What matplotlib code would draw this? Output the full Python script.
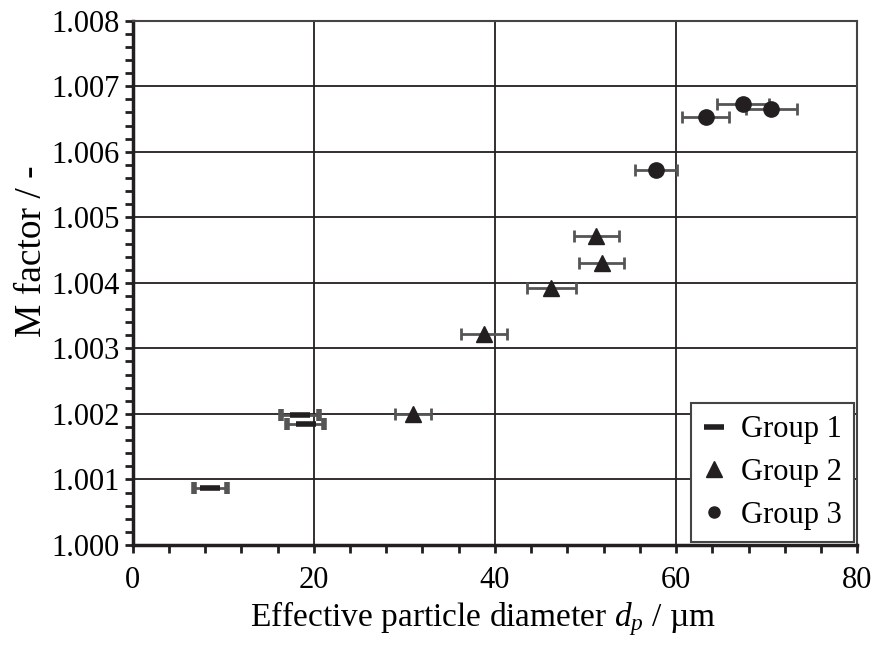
import matplotlib.pyplot as plt
from matplotlib.lines import Line2D
from matplotlib.ticker import MultipleLocator, FormatStrFormatter

plt.rcParams['font.family'] = ['Liberation Serif', 'DejaVu Serif']
plt.rcParams['mathtext.fontset'] = 'custom'
plt.rcParams['mathtext.it'] = 'Liberation Serif:italic'
plt.rcParams['mathtext.rm'] = 'Liberation Serif'

# Group 1
g1_d = [8.6, 18.5, 19.1]
g1_m = [1.00087, 1.00199, 1.00185]
g1_err = [1.8, 2.1, 2.0]

# Group 2
g2_d = [31.0, 38.8, 46.2, 51.2, 51.8]
g2_m = [1.00200, 1.00322, 1.00392, 1.00472, 1.00430]
g2_err = [2.0, 2.5, 2.7, 2.5, 2.5]

# Group 3
g3_d = [57.8, 63.3, 67.4, 70.5]
g3_m = [1.00572, 1.00653, 1.00673, 1.00665]
g3_err = [2.3, 2.6, 2.9, 2.8]

fig, ax = plt.subplots(figsize=(8.81, 6.45), dpi=100)
fig.subplots_adjust(left=0.1505, right=0.973, bottom=0.155, top=0.968)

ecol = '#555555'
mcol = '#231f20'
ax.errorbar(g1_d, g1_m, xerr=g1_err, fmt='_', color=mcol, ecolor=ecol,
            elinewidth=2, capsize=4, capthick=2, markersize=14, mew=4, zorder=3)
ax.errorbar(g2_d, g2_m, xerr=g2_err, fmt='^', color=mcol, ecolor=ecol,
            elinewidth=2, capsize=4, capthick=2, markersize=11, zorder=3)
ax.errorbar(g3_d, g3_m, xerr=g3_err, fmt='o', color=mcol, ecolor=ecol,
            elinewidth=2, capsize=4, capthick=2, markersize=11, zorder=3)

ax.set_xlim(0, 80)
ax.set_ylim(1.000, 1.008)
ax.xaxis.set_major_locator(MultipleLocator(20))
ax.xaxis.set_minor_locator(MultipleLocator(4))
ax.yaxis.set_major_locator(MultipleLocator(0.001))
ax.yaxis.set_minor_locator(MultipleLocator(0.0002))
ax.yaxis.set_major_formatter(FormatStrFormatter('%.3f'))
ax.grid(True, which='major', color='#231f20', linewidth=1.3)
ax.set_axisbelow(True)

ax.tick_params(which='both', direction='out', labelsize=22, width=2, color='#231f20', length=6)
ax.tick_params(axis='x', which='major', pad=9)
for s in ['left', 'bottom']:
    ax.spines[s].set_linewidth(2.5)
    ax.spines[s].set_color('#231f20')
for s in ['top', 'right']:
    ax.spines[s].set_linewidth(1.5)
    ax.spines[s].set_color('#444444')

ax.set_xlabel(r'Effective particle diameter $d_p$ / µm', fontsize=24)
ax.set_ylabel('M factor / -', fontsize=27)
ax.xaxis.set_label_coords(0.483, -0.103)
ax.yaxis.set_label_coords(-0.115, 0.56)

handles = [
    Line2D([], [], linestyle='none', marker='_', color=mcol, markersize=14, mew=4),
    Line2D([], [], linestyle='none', marker='^', color=mcol, markersize=11),
    Line2D([], [], linestyle='none', marker='o', color=mcol, markersize=8),
]
leg = ax.legend(handles, ['Group 1', 'Group 2', 'Group 3'], loc='lower right',
                fontsize=22, frameon=True, fancybox=False,
                handletextpad=0.55, handlelength=0.7, borderpad=0.4,
                labelspacing=0.45, borderaxespad=0.1)
leg.get_frame().set_edgecolor('#444444')
leg.get_frame().set_linewidth(1.5)
leg.get_frame().set_alpha(1)

fig.savefig('out.png', dpi=100)
